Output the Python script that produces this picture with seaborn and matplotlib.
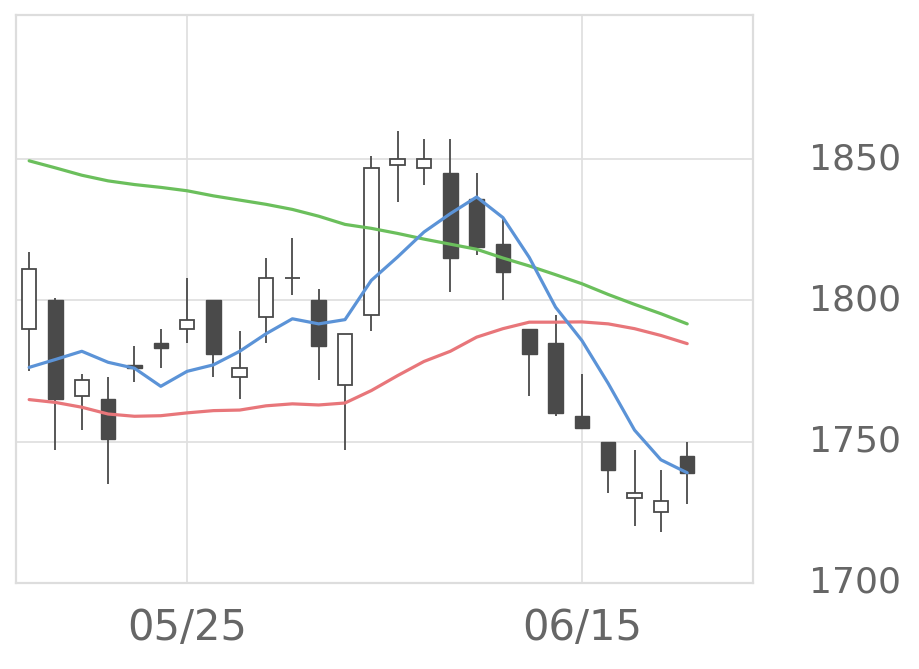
import matplotlib
matplotlib.use("Agg")
import matplotlib.pyplot as plt
import seaborn as sns
import pandas as pd
import numpy as np

# ---- data ----
dates = ["05/15", "05/18", "05/19", "05/20", "05/21", "05/22", "05/25", "05/26",
         "05/27", "05/28", "05/29", "06/01", "06/02", "06/03", "06/04", "06/05",
         "06/08", "06/09", "06/10", "06/11", "06/12", "06/15", "06/16", "06/17",
         "06/18", "06/19"]
open_ = [1790, 1800, 1766, 1765, 1777, 1785, 1790, 1800, 1773, 1794, 1808, 1800, 1770,
         1795, 1848, 1847, 1845, 1836, 1820, 1790, 1785, 1759, 1750, 1730, 1725, 1745]
high = [1817, 1801, 1774, 1773, 1784, 1790, 1808, 1800, 1789, 1815, 1822, 1804, 1788,
        1851, 1860, 1857, 1857, 1845, 1829, 1790, 1795, 1774, 1750, 1747, 1740, 1750]
low = [1775, 1747, 1754, 1735, 1771, 1776, 1785, 1773, 1765, 1785, 1802, 1772, 1747,
       1789, 1835, 1841, 1803, 1816, 1800, 1766, 1759, 1755, 1732, 1720, 1718, 1728]
close = [1811, 1765, 1772, 1751, 1776, 1783, 1793, 1781, 1776, 1808, 1808, 1784, 1788,
         1847, 1850, 1850, 1815, 1819, 1810, 1781, 1760, 1755, 1740, 1732, 1729, 1739]
ma5 = [1776.3, 1779.1, 1782.0, 1778.1, 1776.0, 1769.6, 1774.9, 1777.2, 1782.0, 1788.2,
       1793.5, 1791.7, 1793.2, 1807.1, 1815.4, 1824.2, 1830.7, 1836.6, 1829.3, 1815.2,
       1797.6, 1785.8, 1770.6, 1754.1, 1743.6, 1739.0]
ma25 = [1764.9, 1763.9, 1762.2, 1759.8, 1759.0, 1759.2, 1760.2, 1761.0, 1761.2, 1762.7,
        1763.4, 1763.0, 1763.7, 1768.1, 1773.4, 1778.4, 1782.0, 1787.0, 1790.0, 1792.3,
        1792.3, 1792.4, 1791.7, 1790.0, 1787.6, 1784.7]
ma75 = [1849.4, 1846.9, 1844.3, 1842.3, 1841.0, 1840.0, 1838.8, 1837.0, 1835.5, 1834.0,
        1832.2, 1829.8, 1826.9, 1825.5, 1823.7, 1821.7, 1819.9, 1818.1, 1815.0, 1812.2,
        1809.1, 1805.9, 1802.1, 1798.6, 1795.3, 1791.7]
x_tick_labels = ["05/25", "06/15"]
y_ticks = [1700, 1750, 1800, 1850]

df = pd.DataFrame({"date": dates, "open": open_, "high": high, "low": low,
                   "close": close, "ma5": ma5, "ma25": ma25, "ma75": ma75})
df["idx"] = np.arange(len(df))

# ---- style ----
sns.set_theme(style="white")
plt.rcParams['font.family'] = ['DejaVu Sans']

fig = plt.figure(figsize=(9.2, 6.69), dpi=100)
ax = fig.add_axes([16 / 920, 1 - 583 / 669, (753 - 16) / 920, (583 - 15) / 669])

candle_col = "#4a4a4a"
up = (df["close"] >= df["open"]).values
bottoms = np.minimum(df["open"], df["close"]).values
heights = np.abs(df["close"] - df["open"]).values
xs = df["idx"].values

ax.vlines(xs, df["low"], df["high"], color=candle_col, lw=1.3, zorder=2)
ax.bar(xs[up], heights[up], bottom=bottoms[up], width=0.55, color="white",
       edgecolor=candle_col, linewidth=1.3, zorder=3)
ax.bar(xs[~up], heights[~up], bottom=bottoms[~up], width=0.55, color=candle_col,
       edgecolor=candle_col, linewidth=1.0, zorder=3)

sns.lineplot(data=df, x="idx", y="ma75", color="#6bbf5c", lw=2.3, ax=ax, zorder=4)
sns.lineplot(data=df, x="idx", y="ma25", color="#e8767a", lw=2.3, ax=ax, zorder=4)
sns.lineplot(data=df, x="idx", y="ma5", color="#5b93d7", lw=2.3, ax=ax, zorder=5)

ax.set_xlim(-0.5, 27.5)
ax.set_ylim(1700, 1901)
ax.set_xlabel("")
ax.set_ylabel("")

ax.set_xticks([dates.index(d) for d in x_tick_labels])
ax.set_xticklabels(x_tick_labels)
ax.set_yticks(y_ticks)
ax.set_yticklabels([str(v) for v in y_ticks])
ax.yaxis.tick_right()

ax.tick_params(axis="x", length=6, width=1, color="#d4dbe8", pad=11,
               labelsize=30, labelcolor="#666666")
ax.tick_params(axis="y", length=0, pad=40, labelsize=26, labelcolor="#666666")
for lbl in ax.get_yticklabels():
    lbl.set_va("center")

ax.grid(True, color="#e0e0e0", lw=1.3)
ax.set_axisbelow(True)
for s in ax.spines.values():
    s.set_color("#dddddd")
    s.set_linewidth(1.6)
    s.set_visible(True)

fig.savefig("out.png", dpi=100, facecolor="white")
